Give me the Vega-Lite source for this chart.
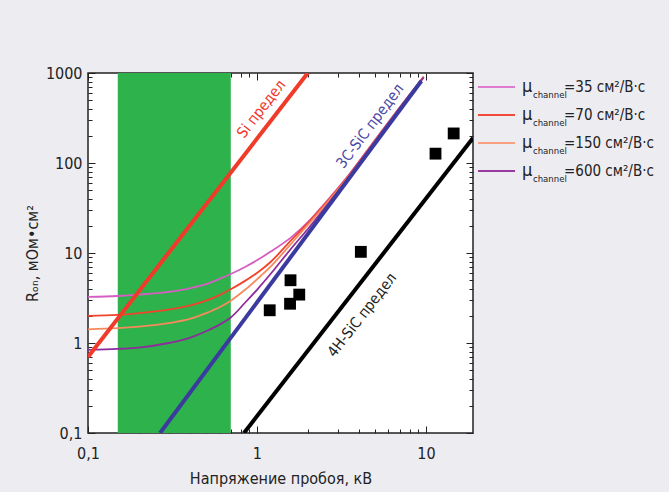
{
  "$schema": "https://vega.github.io/schema/vega-lite/v6.json",
  "background": "#edecf1",
  "padding": {"left": 23, "top": 64, "right": 5, "bottom": 5},
  "spacing": 1,
  "config": {
    "font": "\"DejaVu Sans Condensed\", \"Liberation Sans\", sans-serif",
    "axis": {"labelFont": "\"DejaVu Sans Condensed\", \"Liberation Sans\", sans-serif", "titleFont": "\"DejaVu Sans Condensed\", \"Liberation Sans\", sans-serif", "labelFontSize": 16, "titleFontSize": 16, "titleFontWeight": "normal", "labelColor": "#222", "titleColor": "#222", "tickColor": "#222", "grid": false, "domain": false, "labelFlush": false}
  },
  "datasets": {
    "band": [{"x0": 0.15, "x1": 0.7}],
    "limits": [
      {"series": "Si", "x": 0.1, "y": 0.7}, {"series": "Si", "x": 2.0, "y": 1000},
      {"series": "3C", "x": 0.267, "y": 0.1}, {"series": "3C", "x": 9.4, "y": 815},
      {"series": "4H", "x": 0.838, "y": 0.1}, {"series": "4H", "x": 19, "y": 190}
    ],
    "curves": [
      {"mu": "35", "x": 0.1, "y": 3.25}, {"mu": "35", "x": 0.15, "y": 3.33}, {"mu": "35", "x": 0.2, "y": 3.45}, {"mu": "35", "x": 0.3, "y": 3.7}, {"mu": "35", "x": 0.4, "y": 4.05}, {"mu": "35", "x": 0.5, "y": 4.5}, {"mu": "35", "x": 0.6, "y": 5.15}, {"mu": "35", "x": 0.7, "y": 5.85}, {"mu": "35", "x": 0.85, "y": 7.0}, {"mu": "35", "x": 1.0, "y": 8.3}, {"mu": "35", "x": 1.2, "y": 10.3}, {"mu": "35", "x": 1.6, "y": 15.0}, {"mu": "35", "x": 2.0, "y": 22}, {"mu": "35", "x": 2.5, "y": 35}, {"mu": "35", "x": 3.5, "y": 74}, {"mu": "35", "x": 5, "y": 180}, {"mu": "35", "x": 7, "y": 415}, {"mu": "35", "x": 9.7, "y": 910},
      {"mu": "70", "x": 0.1, "y": 2.0}, {"mu": "70", "x": 0.15, "y": 2.05}, {"mu": "70", "x": 0.2, "y": 2.15}, {"mu": "70", "x": 0.3, "y": 2.35}, {"mu": "70", "x": 0.4, "y": 2.6}, {"mu": "70", "x": 0.5, "y": 2.95}, {"mu": "70", "x": 0.6, "y": 3.4}, {"mu": "70", "x": 0.7, "y": 3.95}, {"mu": "70", "x": 0.85, "y": 4.9}, {"mu": "70", "x": 1.0, "y": 6.0}, {"mu": "70", "x": 1.2, "y": 7.9}, {"mu": "70", "x": 1.6, "y": 14.0}, {"mu": "70", "x": 2.0, "y": 21.5}, {"mu": "70", "x": 2.5, "y": 34}, {"mu": "70", "x": 3.5, "y": 73}, {"mu": "70", "x": 5, "y": 179}, {"mu": "70", "x": 7, "y": 412}, {"mu": "70", "x": 9.7, "y": 905},
      {"mu": "150", "x": 0.1, "y": 1.42}, {"mu": "150", "x": 0.15, "y": 1.46}, {"mu": "150", "x": 0.2, "y": 1.52}, {"mu": "150", "x": 0.3, "y": 1.66}, {"mu": "150", "x": 0.4, "y": 1.85}, {"mu": "150", "x": 0.5, "y": 2.15}, {"mu": "150", "x": 0.6, "y": 2.5}, {"mu": "150", "x": 0.7, "y": 2.95}, {"mu": "150", "x": 0.85, "y": 3.9}, {"mu": "150", "x": 1.0, "y": 5.1}, {"mu": "150", "x": 1.2, "y": 7.0}, {"mu": "150", "x": 1.6, "y": 12.8}, {"mu": "150", "x": 2.0, "y": 20.5}, {"mu": "150", "x": 2.5, "y": 33}, {"mu": "150", "x": 3.5, "y": 71}, {"mu": "150", "x": 5, "y": 176}, {"mu": "150", "x": 7, "y": 408}, {"mu": "150", "x": 9.7, "y": 900},
      {"mu": "600", "x": 0.1, "y": 0.84}, {"mu": "600", "x": 0.15, "y": 0.86}, {"mu": "600", "x": 0.2, "y": 0.89}, {"mu": "600", "x": 0.3, "y": 1.0}, {"mu": "600", "x": 0.4, "y": 1.14}, {"mu": "600", "x": 0.5, "y": 1.35}, {"mu": "600", "x": 0.6, "y": 1.6}, {"mu": "600", "x": 0.7, "y": 1.92}, {"mu": "600", "x": 0.85, "y": 2.8}, {"mu": "600", "x": 1.0, "y": 3.9}, {"mu": "600", "x": 1.2, "y": 5.8}, {"mu": "600", "x": 1.6, "y": 11.3}, {"mu": "600", "x": 2.0, "y": 18.5}, {"mu": "600", "x": 2.5, "y": 31}, {"mu": "600", "x": 3.5, "y": 70}, {"mu": "600", "x": 5, "y": 174}, {"mu": "600", "x": 7, "y": 405}, {"mu": "600", "x": 9.7, "y": 895}
    ],
    "points": [
      {"x": 1.19, "y": 2.31}, {"x": 1.57, "y": 2.73}, {"x": 1.58, "y": 4.98}, {"x": 1.78, "y": 3.45}, {"x": 4.12, "y": 10.3}, {"x": 11.4, "y": 127}, {"x": 14.6, "y": 213}
    ],
    "legend": [
      {"order": 1, "mu": "35", "label": "=35 см²/В·с"},
      {"order": 2, "mu": "70", "label": "=70 см²/В·с"},
      {"order": 3, "mu": "150", "label": "=150 см²/В·с"},
      {"order": 4, "mu": "600", "label": "=600 см²/В·с"}
    ]
  },
  "hconcat": [
    {
      "width": 385,
      "height": 360,
      "view": {"fill": "white", "stroke": "#222", "strokeWidth": 1.5},
      "resolve": {"axis": {"x": "independent", "y": "independent"}, "scale": {"color": "independent"}},
      "layer": [
        {
          "data": {"name": "band"},
          "mark": {"type": "rect", "color": "#2eb24b"},
          "encoding": {
            "x": {"field": "x0", "type": "quantitative", "scale": {"type": "log", "domain": [0.1, 19], "nice": false}, "axis": null},
            "x2": {"field": "x1"}
          }
        },
        {
          "data": {"name": "curves"},
          "mark": {"type": "line", "interpolate": "monotone", "strokeWidth": 1.8, "clip": true},
          "encoding": {
            "x": {"field": "x", "type": "quantitative", "scale": {"type": "log", "domain": [0.1, 19], "nice": false},
              "axis": {"orient": "top", "values": [0.1,0.2,0.3,0.4,0.5,0.6,0.7,0.8,0.9,1,2,3,4,5,6,7,8,9,10], "labels": false, "title": null,
                "tickSize": {"condition": {"test": "indexof([0.1,1,10], datum.value) >= 0", "value": -7}, "value": -4}}},
            "y": {"field": "y", "type": "quantitative", "scale": {"type": "log", "domain": [0.1, 1000], "nice": false},
              "axis": {"orient": "right", "values": [0.1,0.2,0.3,0.4,0.5,0.6,0.7,0.8,0.9,1,2,3,4,5,6,7,8,9,10,20,30,40,50,60,70,80,90,100,200,300,400,500,600,700,800,900,1000], "labels": false, "title": null,
                "tickSize": {"condition": {"test": "indexof([0.1,1,10,100,1000], datum.value) >= 0", "value": -7}, "value": -4}}},
            "color": {"field": "mu", "type": "nominal", "scale": {"domain": ["35", "70", "150", "600"], "range": ["#d65ec2", "#f0442c", "#f58a5c", "#8e2c9c"]}, "legend": null}
          }
        },
        {
          "data": {"name": "limits"},
          "mark": {"type": "line", "strokeWidth": 4, "clip": true},
          "encoding": {
            "x": {"field": "x", "type": "quantitative", "scale": {"type": "log", "domain": [0.1, 19], "nice": false},
              "axis": {"orient": "bottom", "values": [0.1,0.2,0.3,0.4,0.5,0.6,0.7,0.8,0.9,1,2,3,4,5,6,7,8,9,10],
                "labelExpr": "indexof([0.1,1,10], datum.value) >= 0 ? replace(datum.label, '.', ',') : ''",
                "format": "~g", "labelPadding": 19, "title": "Напряжение пробоя, кВ", "titlePadding": 9,
                "tickSize": {"condition": {"test": "indexof([0.1,1,10], datum.value) >= 0", "value": -7}, "value": -4}}},
            "y": {"field": "y", "type": "quantitative", "scale": {"type": "log", "domain": [0.1, 1000], "nice": false},
              "axis": {"orient": "left", "values": [0.1,0.2,0.3,0.4,0.5,0.6,0.7,0.8,0.9,1,2,3,4,5,6,7,8,9,10,20,30,40,50,60,70,80,90,100,200,300,400,500,600,700,800,900,1000],
                "labelExpr": "indexof([0.1,1,10,100,1000], datum.value) >= 0 ? replace(datum.label, '.', ',') : ''",
                "format": "~g", "labelPadding": 13, "title": "Rₒₙ, мОм•см²", "titlePadding": 5,
                "tickSize": {"condition": {"test": "indexof([0.1,1,10,100,1000], datum.value) >= 0", "value": -7}, "value": -4}}},
            "color": {"field": "series", "type": "nominal", "scale": {"domain": ["Si", "3C", "4H"], "range": ["#f03a2a", "#3b3a9f", "#000000"]}, "legend": null}
          }
        },
        {
          "data": {"name": "points"},
          "mark": {"type": "square", "size": 140, "filled": true, "color": "#000", "opacity": 1},
          "encoding": {
            "x": {"field": "x", "type": "quantitative", "scale": {"type": "log", "domain": [0.1, 19], "nice": false}, "axis": null},
            "y": {"field": "y", "type": "quantitative", "scale": {"type": "log", "domain": [0.1, 1000], "nice": false}, "axis": null}
          }
        },
        {
          "data": {"values": [{"x": 1.06, "y": 400, "t": "Si предел"}]},
          "mark": {"type": "text", "angle": 308, "fontSize": 15, "color": "#f0352a", "align": "center", "baseline": "middle"},
          "encoding": {
            "x": {"field": "x", "type": "quantitative", "scale": {"type": "log", "domain": [0.1, 19], "nice": false}, "axis": null},
            "y": {"field": "y", "type": "quantitative", "scale": {"type": "log", "domain": [0.1, 1000], "nice": false}, "axis": null},
            "text": {"field": "t"}
          }
        },
        {
          "data": {"values": [{"x": 4.66, "y": 258, "t": "3C-SiC предел"}]},
          "mark": {"type": "text", "angle": 307, "fontSize": 15, "color": "#4b49a6", "align": "center", "baseline": "middle"},
          "encoding": {
            "x": {"field": "x", "type": "quantitative", "scale": {"type": "log", "domain": [0.1, 19], "nice": false}, "axis": null},
            "y": {"field": "y", "type": "quantitative", "scale": {"type": "log", "domain": [0.1, 1000], "nice": false}, "axis": null},
            "text": {"field": "t"}
          }
        },
        {
          "data": {"values": [{"x": 4.18, "y": 2.05, "t": "4H-SiC предел"}]},
          "mark": {"type": "text", "angle": 308, "fontSize": 15, "color": "#222", "align": "center", "baseline": "middle"},
          "encoding": {
            "x": {"field": "x", "type": "quantitative", "scale": {"type": "log", "domain": [0.1, 19], "nice": false}, "axis": null},
            "y": {"field": "y", "type": "quantitative", "scale": {"type": "log", "domain": [0.1, 1000], "nice": false}, "axis": null},
            "text": {"field": "t"}
          }
        }
      ]
    },
    {
      "width": 190,
      "height": 360,
      "view": {"stroke": null},
      "data": {"name": "legend"},
      "layer": [
        {
          "mark": {"type": "rule", "strokeWidth": 2.2},
          "encoding": {
            "x": {"datum": 2, "type": "quantitative", "scale": {"domain": [0, 190], "nice": false, "zero": false}, "axis": null},
            "x2": {"datum": 39},
            "y": {"field": "order", "type": "quantitative", "scale": {"domain": [0.5, 13.357], "reverse": true, "nice": false, "zero": false}, "axis": null},
            "color": {"field": "mu", "type": "nominal", "scale": {"domain": ["35", "70", "150", "600"], "range": ["#e07ad0", "#f04a3a", "#f8a080", "#9a3aa0"]}, "legend": null}
          }
        },
        {
          "mark": {"type": "text", "text": "μ", "fontSize": 18, "align": "left", "baseline": "middle", "color": "#222"},
          "encoding": {
            "x": {"datum": 46, "type": "quantitative"},
            "y": {"field": "order", "type": "quantitative"}
          }
        },
        {
          "mark": {"type": "text", "text": "channel", "fontSize": 9.5, "align": "left", "baseline": "middle", "dy": 8, "color": "#222"},
          "encoding": {
            "x": {"datum": 57, "type": "quantitative"},
            "y": {"field": "order", "type": "quantitative"}
          }
        },
        {
          "mark": {"type": "text", "fontSize": 15, "align": "left", "baseline": "middle", "color": "#222"},
          "encoding": {
            "x": {"datum": 88, "type": "quantitative"},
            "y": {"field": "order", "type": "quantitative"},
            "text": {"field": "label"}
          }
        }
      ]
    }
  ]
}
